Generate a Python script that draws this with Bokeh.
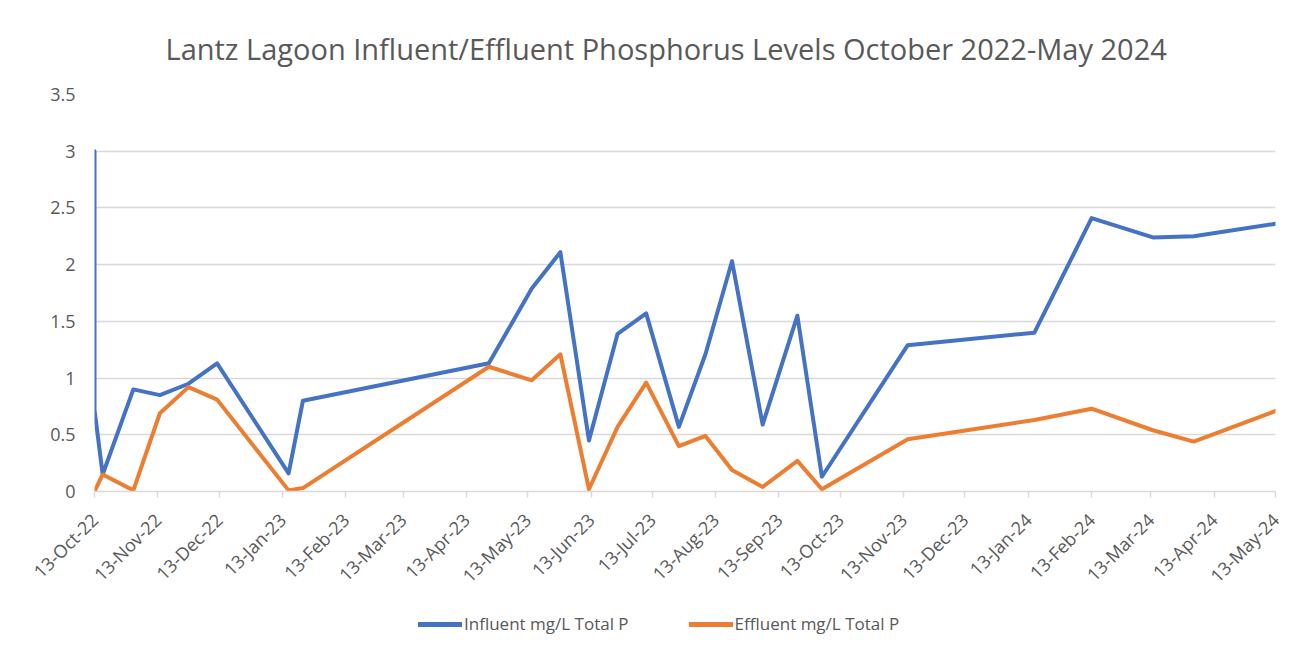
from datetime import datetime
from math import pi
from bokeh.plotting import figure
from bokeh.layouts import column
from bokeh.models import (Range1d, FixedTicker, DatetimeTickFormatter, Legend, LegendItem,
                          ColumnDataSource)
from bokeh.embed import file_html
from bokeh.resources import INLINE

# ---- data ----
sample_dates = ["2022-10-13", "2022-10-13", "2022-10-17", "2022-11-01", "2022-11-14", "2022-11-28",
                "2022-12-12", "2023-01-16", "2023-01-23", "2023-04-24", "2023-05-15", "2023-05-29",
                "2023-06-12", "2023-06-26", "2023-07-10", "2023-07-26", "2023-08-08", "2023-08-21",
                "2023-09-05", "2023-09-22", "2023-10-04", "2023-11-15", "2024-01-16", "2024-02-13",
                "2024-03-14", "2024-04-03", "2024-05-13"]
influent = [3.0, 0.72, 0.15, 0.90, 0.85, 0.95, 1.13, 0.16, 0.80, 1.13, 1.79, 2.11, 0.45, 1.39,
            1.57, 0.57, 1.21, 2.03, 0.59, 1.55, 0.13, 1.29, 1.40, 2.41, 2.24, 2.25, 2.36]
effluent = [0.0, 0.0, 0.15, 0.01, 0.69, 0.92, 0.81, 0.01, 0.03, 1.10, 0.98, 1.21, 0.02, 0.57,
            0.96, 0.40, 0.49, 0.19, 0.04, 0.27, 0.02, 0.46, 0.63, 0.73, 0.54, 0.44, 0.71]

x_tick_labels = ["13-Oct-22", "13-Nov-22", "13-Dec-22", "13-Jan-23", "13-Feb-23", "13-Mar-23",
                 "13-Apr-23", "13-May-23", "13-Jun-23", "13-Jul-23", "13-Aug-23", "13-Sep-23",
                 "13-Oct-23", "13-Nov-23", "13-Dec-23", "13-Jan-24", "13-Feb-24", "13-Mar-24",
                 "13-Apr-24", "13-May-24"]
y_ticks = [0, 0.5, 1, 1.5, 2, 2.5, 3, 3.5]
y_tick_labels = ["0", "0.5", "1", "1.5", "2", "2.5", "3", "3.5"]

title = "Lantz Lagoon Influent/Effluent Phosphorus  Levels October 2022-May 2024"
series_names = ["Influent mg/L Total P", "Effluent mg/L Total P"]
colors = ["#4472C4", "#ED7D31"]

# ---- build ----
dts = [datetime.strptime(d, "%Y-%m-%d") for d in sample_dates]
tick_dts = [datetime.strptime(t, "%d-%b-%y") for t in x_tick_labels]
tick_ms = [(t - datetime(1970, 1, 1)).total_seconds() * 1000 for t in tick_dts]

src = ColumnDataSource(dict(x=dts, inf=influent, eff=effluent))

TXT = "#595959"
GRID = "#d9d9d9"

p = figure(width=1316, height=610, x_axis_type="datetime", output_backend="svg",
           toolbar_location=None,
           x_range=Range1d(tick_dts[0], tick_dts[-1]), y_range=Range1d(0, 3.5),
           min_border_left=94, min_border_right=41, min_border_top=94, min_border_bottom=119)
p.outline_line_color = None

p.title.text = title
p.title.text_font = "Open Sans"
p.title.text_font_size = "29px"
p.title.text_font_style = "normal"
p.title.text_color = TXT
p.title.align = "left"
p.title.offset = 71
p.title.standoff = 53

p.line("x", "inf", source=src, line_width=4, line_color=colors[0],
       line_join="round", line_cap="round")
p.line("x", "eff", source=src, line_width=4, line_color=colors[1],
       line_join="round", line_cap="round")

# y axis
p.yaxis.ticker = FixedTicker(ticks=y_ticks)
p.yaxis.major_label_overrides = {t: l for t, l in zip(y_ticks, y_tick_labels)}
p.yaxis.axis_line_color = None
p.yaxis.major_tick_line_color = None
p.yaxis.major_tick_out = 0
p.yaxis.major_tick_in = 0
p.yaxis.minor_tick_line_color = None
p.yaxis.major_label_text_font = "Open Sans"
p.yaxis.major_label_text_font_size = "18px"
p.yaxis.major_label_text_color = TXT
p.yaxis.major_label_standoff = 19

# x axis
p.xaxis.ticker = FixedTicker(ticks=tick_ms)
fmt = "%d-%b-%y"
p.xaxis.formatter = DatetimeTickFormatter(milliseconds=fmt, seconds=fmt, minsec=fmt, minutes=fmt,
                                          hourmin=fmt, hours=fmt, days=fmt, months=fmt, years=fmt)
p.xaxis.axis_line_color = GRID
p.xaxis.axis_line_width = 1.5
p.xaxis.major_tick_line_color = GRID
p.xaxis.major_tick_line_width = 1.5
p.xaxis.major_tick_in = 0
p.xaxis.major_tick_out = 6
p.xaxis.minor_tick_line_color = None
p.xaxis.major_label_orientation = pi / 4
p.xaxis.major_label_text_font = "Open Sans"
p.xaxis.major_label_text_font_size = "18px"
p.xaxis.major_label_text_color = TXT
p.xaxis.major_label_standoff = 19

p.xgrid.grid_line_color = None
p.ygrid.grid_line_color = GRID
p.ygrid.grid_line_width = 1.5

# legend strip below the chart (its frame is aligned with the chart frame by the column)
lg = figure(width=1316, height=48, output_backend="svg", toolbar_location=None,
            x_range=Range1d(0, 1), y_range=Range1d(0, 1),
            min_border=0, min_border_left=0, min_border_right=0,
            min_border_top=0, min_border_bottom=0)
lg.axis.visible = False
lg.grid.visible = False
lg.outline_line_color = None
# keys drawn from hidden (out-of-range) samples so the legend has colours
k_inf = lg.line(x=[5, 6], y=[5, 6], line_width=5, line_color=colors[0], line_cap="round")
k_eff = lg.line(x=[5, 6], y=[5, 6], line_width=5, line_color=colors[1], line_cap="round")
legend = Legend(items=[LegendItem(label=series_names[0], renderers=[k_inf]),
                       LegendItem(label=series_names[1], renderers=[k_eff])],
                location=(324, 23), orientation="horizontal",
                label_text_font="Open Sans", label_text_font_size="17px",
                label_text_color=TXT, glyph_width=44, glyph_height=20,
                label_standoff=2, spacing=60, padding=0, margin=0,
                border_line_color=None, background_fill_alpha=0)
lg.add_layout(legend, "center")

layout = column(p, lg, spacing=0)
open("out.html", "w").write(file_html(layout, INLINE))
